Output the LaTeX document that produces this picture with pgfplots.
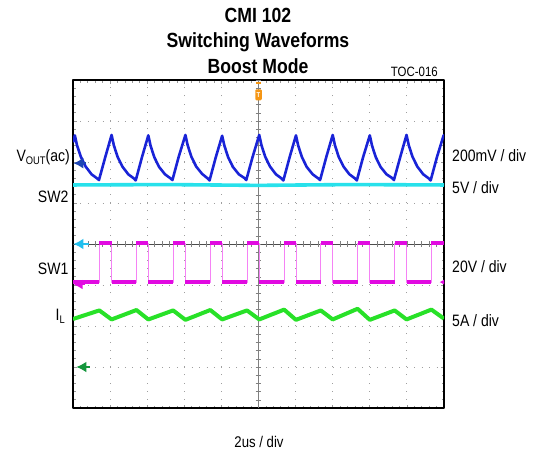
\documentclass[border=0pt]{standalone}
\usepackage{fontspec}
\setmainfont{Liberation Sans}[FakeStretch=0.85]
\newfontfamily\titlefont{Liberation Sans}[FakeStretch=0.86]
\usepackage{pgfplots}
\pgfplotsset{compat=1.18}
\usetikzlibrary{arrows.meta}

\definecolor{vblue}{RGB}{25,35,215}
\definecolor{swcyan}{RGB}{40,225,235}
\definecolor{swmag}{RGB}{225,10,225}
\definecolor{swpink}{RGB}{245,130,245}
\definecolor{ilgreen}{RGB}{40,225,40}
\definecolor{arrgreen}{RGB}{20,150,60}
\definecolor{arrblue}{RGB}{30,70,180}
\definecolor{trigorange}{RGB}{245,150,20}

\newcommand\lab{\fontsize{16.5}{18}\selectfont}

\begin{document}
\begin{tikzpicture}
\path[use as bounding box] (0,0) rectangle (533pt,456pt);

\begin{axis}[
    at={(73pt,48pt)}, anchor=south west,
    scale only axis, width=371pt, height=328pt,
    xmin=0, xmax=10, ymin=-4, ymax=4,
    xtick={0,...,10}, ytick={-4,...,4},
    xticklabels={}, yticklabels={},
    minor x tick num=4, minor y tick num=4,
    major tick length=3.5pt, minor tick length=2.5pt,
    tick style={gray!80, line width=0.7pt},
    axis line style={black, line width=1.3pt},
    grid=major,
    x grid style={gray!75, line width=0.9pt, dash pattern=on 0.9pt off 7.3pt},
    y grid style={gray!75, line width=0.9pt, dash pattern=on 0.9pt off 6.52pt},
    line join=round,
]

% graticule centre axes with small ticks
\draw[gray!60!black, line width=0.8pt] (0,0) -- (10,0);
\draw[gray, line width=0.7pt] (5,-4) -- (5,4);
\pgfplotsinvokeforeach{0.2,0.4,...,9.9}{\draw[gray, line width=0.6pt] (#1,-0.07) -- (#1,0.07);}
\pgfplotsinvokeforeach{-3.8,-3.6,...,3.9}{\draw[gray, line width=0.6pt] (4.92,#1) -- (5.08,#1);}

% SW2
\addplot[swcyan, line width=3.6pt] coordinates {(0,1.44) (2.5,1.45) (5,1.43) (7.5,1.45) (10,1.44)};

% VOUT (ac)
\addplot[vblue, line width=2.6pt] coordinates {
(0,2.48) (0.05,2.65) (0.11,2.40) (0.21,2.13) (0.34,1.89) (0.50,1.70) (0.65,1.60) (0.70,1.56) (0.87,2.12)
(1.04,2.66) (1.10,2.41) (1.20,2.13) (1.33,1.89) (1.49,1.70) (1.64,1.60) (1.69,1.55) (1.86,2.12)
(2.03,2.65) (2.09,2.40) (2.19,2.12) (2.32,1.88) (2.48,1.70) (2.63,1.60) (2.68,1.56) (2.85,2.13)
(3.03,2.66) (3.09,2.41) (3.19,2.13) (3.32,1.89) (3.48,1.71) (3.63,1.60) (3.68,1.55) (3.85,2.12)
(4.02,2.64) (4.08,2.40) (4.18,2.12) (4.31,1.88) (4.47,1.70) (4.62,1.61) (4.67,1.56) (4.84,2.12)
(5.02,2.66) (5.08,2.41) (5.18,2.13) (5.31,1.89) (5.47,1.70) (5.62,1.60) (5.67,1.55) (5.84,2.12)
(6.01,2.65) (6.07,2.40) (6.17,2.12) (6.30,1.88) (6.46,1.70) (6.61,1.60) (6.66,1.56) (6.83,2.13)
(7.00,2.66) (7.06,2.41) (7.16,2.13) (7.29,1.89) (7.45,1.70) (7.60,1.60) (7.65,1.55) (7.82,2.12)
(8.00,2.65) (8.06,2.40) (8.16,2.12) (8.29,1.88) (8.45,1.70) (8.60,1.61) (8.65,1.56) (8.82,2.12)
(8.99,2.66) (9.05,2.41) (9.15,2.13) (9.28,1.89) (9.44,1.70) (9.59,1.60) (9.64,1.55) (9.81,2.12)
(9.99,2.65) (10,2.63)};

% SW1: thin edges, then thick low and high levels
\addplot[swpink, line width=0.7pt, const plot mark left] coordinates {
(0,-0.93) (0.71,0.02) (1.04,-0.93) (1.71,0.02) (2.03,-0.93) (2.70,0.02) (3.03,-0.93) (3.70,0.02)
(4.02,-0.93) (4.69,0.02) (5.02,-0.93) (5.69,0.02) (6.01,-0.93) (6.68,0.02) (7.00,-0.93) (7.67,0.02)
(8.00,-0.93) (8.67,0.02) (8.99,-0.93) (9.66,0.02) (10,0.02)};
\addplot[swmag, line width=3.6pt, jump mark left] coordinates {
(0,-0.93) (0.71,0.02) (1.04,-0.93) (1.71,0.02) (2.03,-0.93) (2.70,0.02) (3.03,-0.93) (3.70,0.02)
(4.02,-0.93) (4.69,0.02) (5.02,-0.93) (5.69,0.02) (6.01,-0.93) (6.68,0.02) (7.00,-0.93) (7.67,0.02)
(8.00,-0.93) (8.67,0.02) (8.99,-0.93) (9.66,0.02) (10,0.02)};

% IL
\addplot[ilgreen, line width=4pt] coordinates {
(0,-1.83) (0.71,-1.62) (1.04,-1.84) (1.71,-1.61) (2.03,-1.84) (2.70,-1.62) (3.03,-1.85)
(3.70,-1.61) (4.02,-1.84) (4.69,-1.62) (5.02,-1.84) (5.69,-1.60) (6.01,-1.85) (6.68,-1.62)
(7.00,-1.84) (7.67,-1.58) (8.00,-1.85) (8.67,-1.62) (8.99,-1.84) (9.66,-1.60) (10,-1.82)};

% channel reference markers
\addplot[arrblue, line width=2pt, -{Latex[length=10pt,width=11pt]}] coordinates {(0.34,1.97) (0.01,1.97)};
\addplot[swcyan!85!blue, line width=2pt, -{Latex[length=10pt,width=11pt]}] coordinates {(0.42,0) (0.01,0)};
\addplot[swmag, line width=1.8pt, -{Latex[length=9pt,width=10pt]}] coordinates {(0.32,-0.99) (0.02,-0.99)};
\addplot[swmag, line width=1pt, -{Latex[length=5pt,width=6pt]}] coordinates {(10,-0.93) (9.88,-0.93)};
\addplot[arrgreen, line width=2pt, -{Latex[length=10pt,width=11pt]}] coordinates {(0.45,-3) (0.09,-3)};

% trigger position marker
\node[fill=trigorange, rounded corners=1.2pt, minimum width=6.5pt, minimum height=11pt, inner sep=0pt]
  at (5,3.64) {\fontsize{7}{7}\selectfont\bfseries\color{white}T};
\node[fill=trigorange, minimum width=5pt, minimum height=2pt, inner sep=0pt] at (5,3.92) {};
\end{axis}

% titles
\node[anchor=base] at (258pt,433pt) {\titlefont\bfseries\fontsize{20.5}{22}\selectfont CMI 102};
\node[anchor=base] at (258pt,408pt) {\titlefont\bfseries\fontsize{20.5}{22}\selectfont Switching Waveforms};
\node[anchor=base] at (258pt,382pt) {\titlefont\bfseries\fontsize{20.5}{22}\selectfont Boost Mode};
\node[anchor=base east, inner sep=0pt] at (438pt,379.5pt) {\fontsize{13.5}{14}\selectfont TOC-016};

% left channel names
\node[anchor=base east, inner sep=0pt] at (70pt,294.5pt) {\lab V\raisebox{-3pt}{\fontsize{11}{11}\selectfont OUT}(ac)};
\node[anchor=base east, inner sep=0pt] at (68.5pt,253.5pt) {\lab SW2};
\node[anchor=base east, inner sep=0pt] at (68.5pt,182pt) {\lab SW1};
\node[anchor=base east, inner sep=0pt] at (65pt,136pt) {\lab I\raisebox{-3pt}{\fontsize{11}{11}\selectfont L}};

% right scale labels
\node[anchor=base west, inner sep=0pt] at (452pt,294pt) {\lab 200mV / div};
\node[anchor=base west, inner sep=0pt] at (452pt,262.7pt) {\lab 5V / div};
\node[anchor=base west, inner sep=0pt] at (452pt,184pt) {\lab 20V / div};
\node[anchor=base west, inner sep=0pt] at (452pt,129.3pt) {\lab 5A / div};

% time base
\node[anchor=base, inner sep=0pt] at (259pt,9pt) {\fontsize{15.5}{16}\selectfont 2us / div};
\end{tikzpicture}
\end{document}
